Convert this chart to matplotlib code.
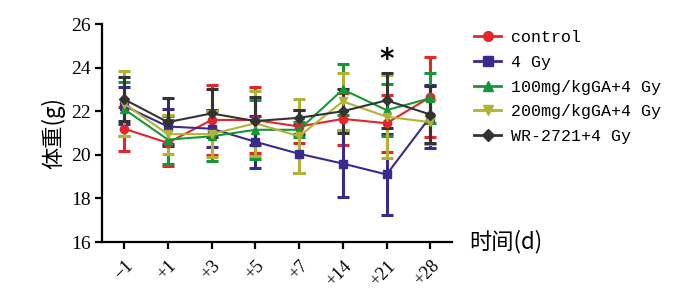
import numpy as np
import matplotlib.pyplot as plt
from matplotlib.lines import Line2D

days = ["\u22121", "+1", "+3", "+5", "+7", "+14", "+21", "+28"]

control = [21.2, 20.55, 21.6, 21.6, 21.3, 21.65, 21.45, 22.65]
control_sd = [1.0, 1.05, 1.6, 1.5, 0.75, 1.2, 1.3, 1.85]
gy4 = [22.25, 21.3, 21.2, 20.6, 20.05, 19.6, 19.1, 21.75]
gy4_sd = [0.85, 0.8, 0.85, 1.2, 0.9, 1.55, 1.85, 1.45]
ga100 = [22.1, 20.7, 20.85, 21.15, 21.15, 23.0, 22.05, 22.6]
ga100_sd = [1.25, 1.1, 1.15, 1.35, 0.35, 1.15, 1.2, 1.15]
ga200 = [22.35, 20.95, 20.95, 21.45, 20.85, 22.45, 21.75, 21.5]
ga200_sd = [1.5, 0.9, 1.05, 1.5, 1.7, 1.3, 1.9, 1.0]
wr = [22.55, 21.5, 21.9, 21.55, 21.7, 22.0, 22.5, 21.85]
wr_sd = [1.0, 1.1, 1.1, 1.1, 0.35, 1.0, 1.25, 1.3]

series = [
    ("control", control, control_sd, "#e3262b", "o"),
    ("4 Gy", gy4, gy4_sd, "#3a2a8e", "s"),
    ("100mg/kgGA+4 Gy", ga100, ga100_sd, "#14973a", "^"),
    ("200mg/kgGA+4 Gy", ga200, ga200_sd, "#b2b234", "v"),
    ("WR-2721+4 Gy", wr, wr_sd, "#333333", "D"),
]

fig = plt.figure(figsize=(7, 3.08), dpi=100)
ax = fig.add_axes([0.146, 0.214, 0.5, 0.708])

x = np.arange(len(days))
handles = []
for name, y, sd, c, m in series:
    ms = 6 if m != "D" else 5
    ax.errorbar(x, y, yerr=sd, color=c, marker=m, markersize=ms,
                linewidth=1.5, elinewidth=2.2, capsize=4.5, capthick=2.2)
    handles.append(Line2D([], [], color=c, marker=m, markersize=ms + 1, linewidth=2, label=name))

# significance mark at +21
ax.text(6, 23.7, "*", ha="center", va="bottom", fontsize=20, fontweight="bold")

ax.set_xlim(-0.5, 7.5)
ax.set_ylim(16, 26)
ax.set_yticks([16, 18, 20, 22, 24, 26])
ax.set_xticks(x)
ax.set_xticklabels(days, rotation=45, ha="right", va="top", rotation_mode="anchor",
                   family="Liberation Serif", fontsize=13)
for t in ax.get_yticklabels():
    t.set_family("Liberation Serif")
    t.set_fontsize(14)
ax.spines[["top", "right"]].set_visible(False)
ax.spines[["left", "bottom"]].set_linewidth(1.6)
ax.tick_params(width=1.6, length=5)
ax.tick_params(axis="x", pad=6)

ax.set_ylabel("体重(g)", family=["Noto Sans CJK SC", "DejaVu Sans"], fontsize=16, labelpad=4)
fig.text(0.67, 0.215, "时间(d)", family=["Noto Sans CJK SC", "DejaVu Sans"], fontsize=16,
         ha="left", va="center")

ax.legend(handles=handles, loc="upper left", bbox_to_anchor=(1.02, 1.04), frameon=False,
          prop={"family": "Liberation Mono", "size": 12}, handlelength=1.6,
          labelspacing=0.58, handletextpad=0.6)

fig.savefig("out.png")
